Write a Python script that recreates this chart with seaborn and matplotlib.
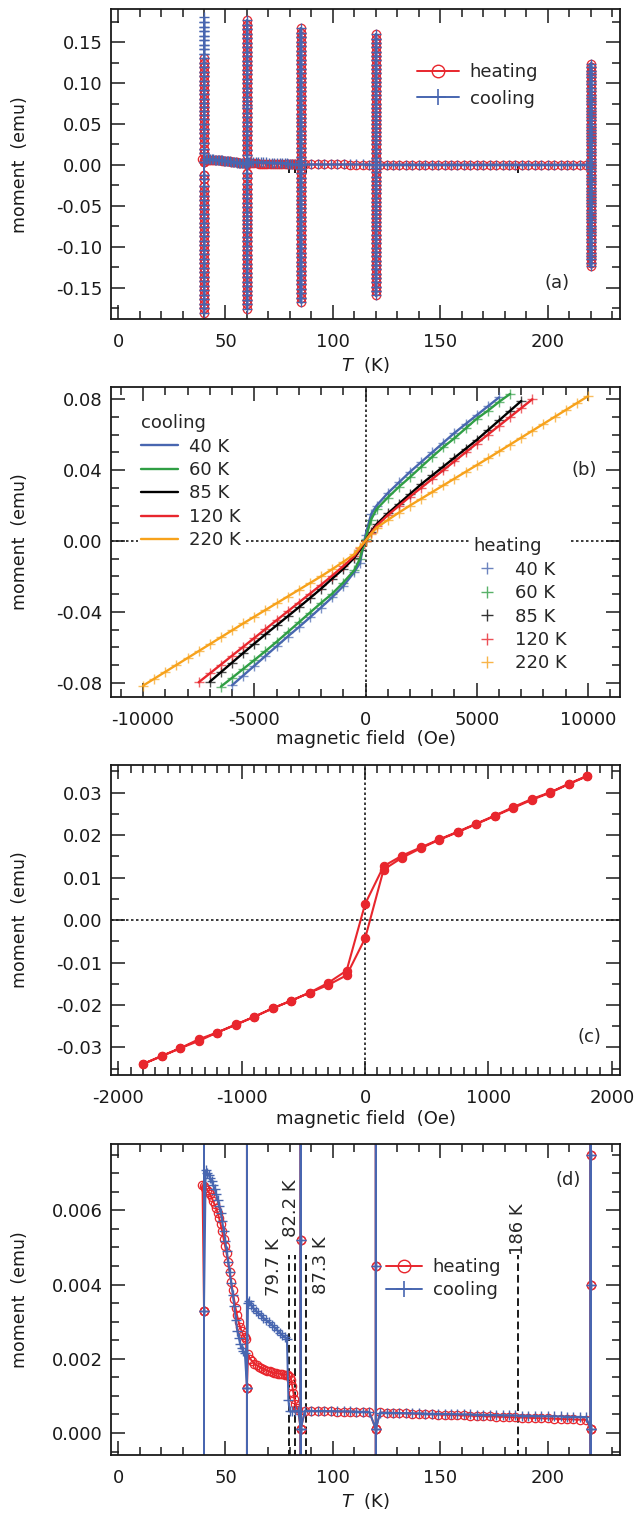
import matplotlib
matplotlib.use("Agg")
import matplotlib.pyplot as plt
import numpy as np
import seaborn as sns
from matplotlib.lines import Line2D
from matplotlib.ticker import MultipleLocator, FormatStrFormatter

sns.set_theme(style="ticks")
plt.rcParams['font.family'] = ['DejaVu Sans']
plt.rcParams['axes.unicode_minus'] = False
plt.rcParams['mathtext.fontset'] = 'dejavusans'

RED = "#e8262d"
BLUE = "#4866b0"
GREEN = "#2f9e44"
ORANGE = "#f7a21b"
BLACK = "#000000"

# ---- M(H) loops, field grid in Oe (same grid for every temperature) ----
field_oe = [-15000, -14500, -14000, -13500, -13000, -12500, -12000, -11500, -11000, -10500,
            -10000, -9500, -9000, -8500, -8000, -7500, -7000, -6500, -6000, -5500,
            -5000, -4500, -4000, -3500, -3000, -2500, -2000, -1500, -1000, -500, -250,
            0,
            250, 500, 1000, 1500, 2000, 2500, 3000, 3500, 4000, 4500, 5000,
            5500, 6000, 6500, 7000, 7500, 8000, 8500, 9000, 9500, 10000,
            10500, 11000, 11500, 12000, 12500, 13000, 13500, 14000, 14500, 15000]

m_40 = [-0.1805, -0.175, -0.1695, -0.164, -0.1585, -0.153, -0.1475, -0.142, -0.1365, -0.131,
        -0.1255, -0.12, -0.1145, -0.109, -0.1035, -0.098, -0.0925, -0.087, -0.0815, -0.076,
        -0.0705, -0.065, -0.0595, -0.054, -0.0487, -0.0432, -0.0376, -0.0318, -0.0255, -0.0175,
        -0.0125,
        0.0033,
        0.0150, 0.020, 0.027, 0.033, 0.039, 0.0445, 0.050, 0.0555, 0.061, 0.066, 0.071,
        0.076, 0.081, 0.0865, 0.092, 0.0975, 0.103, 0.1085, 0.114, 0.1195, 0.125,
        0.1305, 0.136, 0.1415, 0.147, 0.1525, 0.158, 0.1635, 0.169, 0.1745, 0.180]

m_60 = [-0.1757, -0.1702, -0.1647, -0.1592, -0.1537, -0.1482, -0.1427, -0.1372, -0.1317, -0.1262,
        -0.1207, -0.1152, -0.1097, -0.1042, -0.0987, -0.0932, -0.0877, -0.0822, -0.0773, -0.0723,
        -0.0673, -0.0622, -0.057, -0.0515, -0.046, -0.0405, -0.035, -0.0298, -0.0235, -0.0165,
        -0.0100,
        0.0012,
        0.0120, 0.018, 0.0245, 0.0305, 0.036, 0.0418, 0.0475, 0.053, 0.058, 0.0635, 0.069,
        0.0735, 0.0785, 0.083, 0.0885, 0.094, 0.0995, 0.105, 0.1105, 0.116, 0.1215,
        0.127, 0.1325, 0.138, 0.1435, 0.149, 0.1545, 0.16, 0.1655, 0.171, 0.1765]

m_85 = [-0.1675, -0.162, -0.1565, -0.151, -0.1455, -0.14, -0.1345, -0.129, -0.1235, -0.118,
        -0.1125, -0.107, -0.1015, -0.096, -0.0905, -0.085, -0.0795, -0.0741, -0.0687, -0.0633,
        -0.058, -0.0528, -0.0477, -0.0426, -0.0375, -0.0323, -0.027, -0.0213, -0.0158, -0.0095,
        -0.0050,
        0.0001,
        0.0052, 0.0095, 0.0155, 0.021, 0.0265, 0.032, 0.037, 0.042, 0.047, 0.052, 0.057,
        0.0625, 0.068, 0.0735, 0.079, 0.0845, 0.09, 0.0955, 0.101, 0.1065, 0.112,
        0.1175, 0.123, 0.1285, 0.134, 0.1395, 0.145, 0.1505, 0.156, 0.1615, 0.167]

m_120 = [-0.1593, -0.154, -0.1487, -0.1434, -0.1381, -0.1328, -0.1275, -0.1222, -0.1169, -0.1116,
         -0.1063, -0.101, -0.0957, -0.0904, -0.0851, -0.0798, -0.0748, -0.0698, -0.0648, -0.0598,
         -0.0548, -0.0498, -0.0448, -0.0398, -0.0348, -0.0298, -0.0248, -0.0196, -0.0143, -0.0085,
         -0.0042,
         0.0001,
         0.0045, 0.0085, 0.0145, 0.0198, 0.025, 0.030, 0.035, 0.040, 0.045, 0.050, 0.055,
         0.060, 0.065, 0.070, 0.075, 0.080, 0.0853, 0.0906, 0.0959, 0.1012, 0.1065,
         0.1118, 0.1171, 0.1224, 0.1277, 0.133, 0.1383, 0.1436, 0.1489, 0.1542, 0.1595]

m_220 = [-0.1237, -0.1195, -0.1153, -0.1111, -0.1069, -0.1027, -0.0985, -0.0943, -0.0901, -0.0859,
         -0.0817, -0.0778, -0.0739, -0.070, -0.0661, -0.0622, -0.0583, -0.0544, -0.0505, -0.0466,
         -0.0428, -0.039, -0.0352, -0.0314, -0.0276, -0.0238, -0.020, -0.016, -0.0118, -0.0075,
         -0.0035,
         0.0001,
         0.0040, 0.0075, 0.0118, 0.016, 0.020, 0.0238, 0.0276, 0.0314, 0.0352, 0.039, 0.0428,
         0.0466, 0.0505, 0.0544, 0.0583, 0.0622, 0.0661, 0.070, 0.0739, 0.0778, 0.0817,
         0.0859, 0.0901, 0.0943, 0.0985, 0.1027, 0.1069, 0.1111, 0.1153, 0.1195, 0.1237]

loop_temps = [40, 60, 85, 120, 220]
loop_labels = ["40 K", "60 K", "85 K", "120 K", "220 K"]
loop_colors = [BLUE, GREEN, BLACK, RED, ORANGE]
loop_moments = [m_40, m_60, m_85, m_120, m_220]
heat_hmax = [10500, 15000, 15000, 15000, 15000]

# ---- low-field loop, panel (c) ----
c_field = [-1800, -1650, -1500, -1350, -1200, -1050, -900, -750, -600, -450, -300, -150, 0,
           150, 300, 450, 600, 750, 900, 1050, 1200, 1350, 1500, 1650, 1800]
c_up = [-0.0339, -0.0321, -0.0302, -0.0285, -0.0265, -0.0247, -0.0228, -0.0208, -0.0190, -0.0171,
        -0.0153, -0.0130, -0.0043, 0.0119, 0.0147, 0.0169, 0.0189, 0.0207, 0.0226, 0.0245,
        0.0264, 0.0283, 0.0300, 0.0320, 0.0339]
c_down = [-0.0339, -0.0320, -0.0302, -0.0281, -0.0265, -0.0246, -0.0228, -0.0208, -0.0190, -0.0171,
          -0.0148, -0.0119, 0.0038, 0.0127, 0.0152, 0.0171, 0.0190, 0.0208, 0.0227, 0.0246,
          0.0266, 0.0285, 0.0301, 0.0321, 0.0340]

# ---- M(T) between the loops ----
heat_t_low = [39.3, 40.0, 40.7, 41.4, 42.1, 42.8, 43.5, 44.2, 44.9, 45.6, 46.3, 47.0, 47.7, 48.4,
              49.1, 49.8, 50.5, 51.2, 51.9, 52.6, 53.3, 54.0, 54.7, 55.4, 56.1, 56.8, 57.5, 58.2,
              58.9, 59.6]
heat_m_low = [0.00668, 0.00665, 0.00661, 0.00656, 0.0065, 0.00643, 0.00635, 0.00626, 0.00616,
              0.00606, 0.00594, 0.0058, 0.00564, 0.00545, 0.00524, 0.00504, 0.00484, 0.0046,
              0.00433, 0.00408, 0.00384, 0.0036, 0.00337, 0.00317, 0.00300, 0.00286, 0.00275,
              0.00265, 0.00258, 0.00252]

heat_t_mid = [60.5, 61.5, 62.5, 63.5, 64.5, 65.5, 66.5, 67.5, 68.5, 69.5, 70.5, 71.5, 72.5, 73.5,
              74.5, 75.5, 76.5, 77.5, 78.5, 79.3, 80.0, 80.6, 81.1, 81.6, 82.1, 82.6, 83.2, 83.9]
heat_m_mid = [0.00212, 0.00200, 0.00193, 0.00187, 0.00182, 0.00179, 0.00176, 0.00173, 0.00170,
              0.00168, 0.00166, 0.00164, 0.00162, 0.00161, 0.00160, 0.00159, 0.00158, 0.00157,
              0.00157, 0.00156, 0.00152, 0.00143, 0.00126, 0.00108, 0.00092, 0.00078, 0.00066,
              0.00061]

t_a = [87, 90, 93, 96, 99, 102, 105, 108, 111, 114, 117]
heat_m_a = [0.00059, 0.000588, 0.000585, 0.000582, 0.00058, 0.000577, 0.000574, 0.000571,
            0.000568, 0.000565, 0.000562]
cool_m_a = [0.0006, 0.000598, 0.000595, 0.000592, 0.00059, 0.000586, 0.000583, 0.00058,
            0.000577, 0.000574, 0.00057]

t_b = [122, 125, 128, 131, 134, 137, 140, 143, 146, 149, 152, 155, 158, 161, 164, 167, 170,
       173, 176, 179, 182, 185, 188, 191, 194, 197, 200, 203, 206, 209, 212, 215, 218]
heat_m_b = [0.000552, 0.000546, 0.00054, 0.000533, 0.000527, 0.000521, 0.000515, 0.000508,
            0.000502, 0.000496, 0.00049, 0.000483, 0.000477, 0.000471, 0.000465, 0.000458,
            0.000452, 0.000446, 0.00044, 0.000433, 0.000427, 0.000421, 0.000415, 0.000408,
            0.000402, 0.000396, 0.00039, 0.000383, 0.000377, 0.000371, 0.000365, 0.000358,
            0.000352]
cool_m_b = [0.00055, 0.000546, 0.000543, 0.000539, 0.000535, 0.000531, 0.000528, 0.000524,
            0.00052, 0.000516, 0.000513, 0.000509, 0.000505, 0.000501, 0.000498, 0.000494,
            0.00049, 0.000486, 0.000483, 0.000479, 0.000475, 0.000471, 0.000468, 0.000464,
            0.00046, 0.000456, 0.000453, 0.000449, 0.000445, 0.000441, 0.000438, 0.000434,
            0.00043]

cool_t_mid = [84.0, 82.5, 81.0, 80.0, 79.3, 78.6, 77.6, 76.5, 75.3, 74.0, 72.8, 71.5, 70.2,
              69.0, 67.7, 66.4, 65.2, 64.0, 62.8, 61.8, 61.0, 60.5]
cool_m_mid = [0.00060, 0.00059, 0.00058, 0.00058, 0.00090, 0.00252, 0.00258, 0.00264, 0.00270,
              0.00278, 0.00285, 0.00292, 0.00298, 0.00304, 0.00310, 0.00317, 0.00323, 0.00330,
              0.00338, 0.00346, 0.00355, 0.00350]

cool_t_low = [59.0, 58.3, 57.6, 56.9, 56.2, 55.5, 54.8, 54.1, 53.4, 52.7, 52.0, 51.3, 50.6, 49.9,
              49.2, 48.5, 47.8, 47.1, 46.4, 45.7, 45.0, 44.3, 43.6, 42.9, 42.2, 41.5, 40.8]
cool_m_low = [0.00215, 0.0022, 0.00228, 0.0024, 0.00256, 0.00276, 0.00305, 0.00342, 0.00373,
              0.00404, 0.00433, 0.00462, 0.0049, 0.00518, 0.00545, 0.00571, 0.00594, 0.00612,
              0.00629, 0.00643, 0.00657, 0.00668, 0.00678, 0.00687, 0.00695, 0.00702, 0.00708]

trans_temps = [79.7, 82.2, 87.3, 186.0]
trans_labels = ["79.7 K", "82.2 K", "87.3 K", "186 K"]


def loop_xy(k, h_max=15000):
    # field sweep 0 -> +Hmax -> -Hmax -> 0 at fixed temperature
    f = np.array(field_oe)
    i0 = int(np.where(f == 0)[0][0])
    im = int(np.where(f == h_max)[0][0])
    idx = list(range(i0, im + 1)) + list(range(im - 1, -1, -1)) + list(range(1, i0 + 1))
    m = np.array(loop_moments[k])[idx]
    return np.full(len(idx), float(loop_temps[k])), m


def join(parts):
    xs = np.concatenate([np.asarray(p[0], float) for p in parts])
    ys = np.concatenate([np.asarray(p[1], float) for p in parts])
    return xs, ys


heat_T, heat_M = join([loop_xy(0, heat_hmax[0]), (heat_t_low, heat_m_low), loop_xy(1),
                       (heat_t_mid, heat_m_mid), loop_xy(2), (t_a, heat_m_a), loop_xy(3),
                       (t_b, heat_m_b), loop_xy(4)])
cool_T, cool_M = join([loop_xy(4), (t_b[::-1], cool_m_b[::-1]), loop_xy(3),
                       (t_a[::-1], cool_m_a[::-1]), loop_xy(2), (cool_t_mid, cool_m_mid),
                       loop_xy(1), (cool_t_low, cool_m_low), loop_xy(0)])


def line(ax, x, y, **kw):
    sns.lineplot(x=np.asarray(x, float), y=np.asarray(y, float), ax=ax, sort=False,
                 estimator=None, errorbar=None, **kw)


def style(ax, xmaj, xmin, ymaj, ymin, yfmt):
    ax.xaxis.set_major_locator(MultipleLocator(xmaj))
    ax.xaxis.set_minor_locator(MultipleLocator(xmin))
    ax.yaxis.set_major_locator(MultipleLocator(ymaj))
    ax.yaxis.set_minor_locator(MultipleLocator(ymin))
    ax.xaxis.set_major_formatter(FormatStrFormatter('%d'))
    ax.yaxis.set_major_formatter(FormatStrFormatter(yfmt))
    ax.tick_params(which='both', direction='in', top=True, right=True, labelsize=13,
                   width=1.1, color='k', labelcolor='k')
    ax.tick_params(which='major', length=10)
    ax.tick_params(which='minor', length=5.5)
    ax.tick_params(axis='x', which='both', pad=10)
    ax.tick_params(axis='y', which='both', pad=6)
    for s in ax.spines.values():
        s.set_linewidth(1.3)
        s.set_color('k')
    ax.set_ylabel("moment  (emu)", fontsize=12.5, color='k')
    ax.yaxis.set_label_coords(-0.162, 0.5)


def mt_panel(ax, ylim):
    line(ax, heat_T, heat_M, color=RED, lw=1.4, marker='o', markersize=6,
         markerfacecolor='none', markeredgecolor=RED, markeredgewidth=0.9)
    line(ax, cool_T, cool_M, color=BLUE, lw=1.4, marker='+', markersize=7,
         markeredgecolor=BLUE, markeredgewidth=1.0)
    ax.vlines(trans_temps, -0.0095, 0.0048, colors='k', linestyles=(0, (4, 2)), lw=1.4,
              zorder=1.5)
    ax.set_xlim(-3.3, 233.7)
    ax.set_ylim(*ylim)
    ax.set_xlabel("$T$  (K)", fontsize=13, color='k')


fig = plt.figure(figsize=(6.41, 15.15), dpi=100)
L, W = 0.17317, 0.79407
ax_a = fig.add_axes([L, 0.78944, W, 0.20442])
ax_b = fig.add_axes([L, 0.53993, W, 0.20462])
ax_c = fig.add_axes([L, 0.29043, W, 0.20482])
ax_d = fig.add_axes([L, 0.03960, W, 0.20508])

mt_handles = [Line2D([0], [0], color=RED, lw=1.4, marker='o', ms=9, mfc='none', mec=RED, mew=1.0),
              Line2D([0], [0], color=BLUE, lw=1.4, marker='+', ms=11, mec=BLUE, mew=1.2)]

# (a)
mt_panel(ax_a, (-0.188, 0.19))
style(ax_a, 50, 10, 0.05, 0.025, '%.2f')
ax_a.xaxis.set_label_coords(0.5, -0.116)
ax_a.legend(mt_handles, ["heating", "cooling"], loc='upper left', bbox_to_anchor=(0.577, 0.866),
            frameon=False, fontsize=13, handlelength=2.3, handletextpad=0.6,
            labelspacing=0.45, borderpad=0.2)
ax_a.text(0.876, 0.116, "(a)", transform=ax_a.transAxes, ha='center', va='center', fontsize=13)

# (b)
ax_b.axhline(0, color='k', lw=1.2, ls=(0, (1.5, 1.5)), zorder=1)
ax_b.axvline(0, color='k', lw=1.2, ls=(0, (1.5, 1.5)), zorder=1)
f_arr = np.array(field_oe, float)
for k in range(len(loop_temps)):
    m_arr = np.array(loop_moments[k])
    keep = np.abs(m_arr) <= 0.0835
    line(ax_b, f_arr[keep], m_arr[keep], color=loop_colors[k], lw=0, linestyle='none',
         marker='+', markersize=6.5, markeredgecolor=loop_colors[k], markeredgewidth=1.0,
         alpha=0.7)
for k in range(len(loop_temps)):
    m_arr = np.array(loop_moments[k])
    keep = np.abs(m_arr) <= 0.0835
    line(ax_b, f_arr[keep], m_arr[keep], color=loop_colors[k], lw=1.7)
ax_b.set_xlim(-11440, 11440)
ax_b.set_ylim(-0.0881, 0.0869)
style(ax_b, 5000, 1000, 0.04, 0.01, '%.2f')
ax_b.set_xlabel("magnetic field  (Oe)", fontsize=13, color='k')
ax_b.xaxis.set_label_coords(0.5, -0.106)
cool_h = [Line2D([0], [0], color=c, lw=1.7) for c in loop_colors]
heat_h = [Line2D([0], [0], color=c, ls='none', marker='+', ms=9, mec=c, mew=1.0, alpha=0.8)
          for c in loop_colors]
leg1 = ax_b.legend(cool_h, loop_labels, title="cooling", loc='upper left',
                   bbox_to_anchor=(0.035, 0.953), fontsize=13, title_fontsize=13,
                   alignment='left', handlelength=2.0, handletextpad=0.65, labelspacing=0.3,
                   borderpad=0.2, frameon=True, facecolor='white', edgecolor='none',
                   framealpha=1.0)
ax_b.add_artist(leg1)
ax_b.legend(heat_h, loop_labels, title="heating", loc='upper left',
            bbox_to_anchor=(0.688, 0.556), fontsize=13, title_fontsize=13,
            alignment='left', handlelength=1.5, handletextpad=0.8, labelspacing=0.3,
            borderpad=0.2, frameon=True, facecolor='white', edgecolor='none', framealpha=1.0)
ax_b.text(0.929, 0.732, "(b)", transform=ax_b.transAxes, ha='center', va='center', fontsize=13)

# (c)
ax_c.axhline(0, color='k', lw=1.2, ls=(0, (1.5, 1.5)), zorder=1)
ax_c.axvline(0, color='k', lw=1.2, ls=(0, (1.5, 1.5)), zorder=1)
c_x = list(c_field[::-1]) + list(c_field)
c_y = list(c_down[::-1]) + list(c_up)
line(ax_c, c_x, c_y, color=RED, lw=1.5, marker='o', markersize=6, markerfacecolor=RED,
     markeredgecolor=RED, markeredgewidth=0.8)
ax_c.set_xlim(-2060, 2066)
ax_c.set_ylim(-0.0365, 0.0366)
style(ax_c, 1000, 100, 0.01, 0.005, '%.2f')
ax_c.set_xlabel("magnetic field  (Oe)", fontsize=13, color='k')
ax_c.xaxis.set_label_coords(0.5, -0.113)
ax_c.text(0.939, 0.122, "(c)", transform=ax_c.transAxes, ha='center', va='center', fontsize=13)

# (d)
mt_panel(ax_d, (-0.000594, 0.00778))
style(ax_d, 50, 10, 0.002, 0.0005, '%.3f')
ax_d.xaxis.set_label_coords(0.5, -0.116)
ax_d.legend(mt_handles, ["heating", "cooling"], loc='upper left', bbox_to_anchor=(0.515, 0.675),
            frameon=False, fontsize=13, handlelength=2.0, handletextpad=0.6,
            labelspacing=0.3, borderpad=0.2)
for t, lab, (tx, my) in zip(trans_temps, trans_labels,
                            [(72.5, 0.00447), (80.7, 0.00607), (94.3, 0.00453), (186.2, 0.0055)]):
    ax_d.text(tx, my, lab, rotation=90, ha='center', va='center', fontsize=13)
ax_d.text(0.898, 0.885, "(d)", transform=ax_d.transAxes, ha='center', va='center', fontsize=13)

fig.savefig("out.png", dpi=100)
